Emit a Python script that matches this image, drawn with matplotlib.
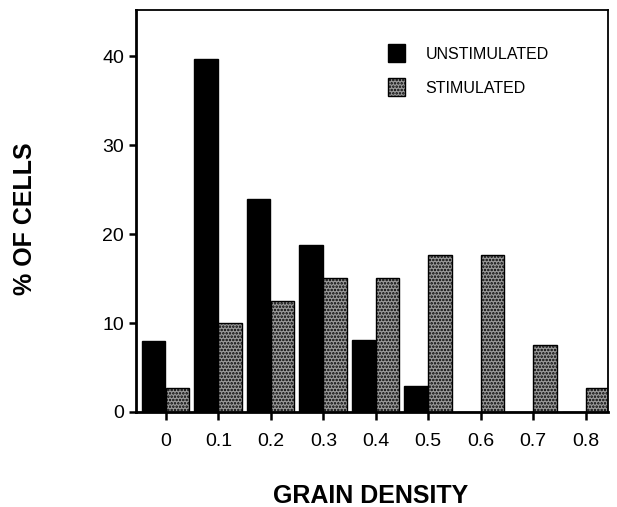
import numpy as np
import matplotlib.pyplot as plt

# Grain density bins and % of cells
density = [0, 0.1, 0.2, 0.3, 0.4, 0.5, 0.6, 0.7, 0.8]
unstimulated = [8.0, 39.7, 23.9, 18.8, 8.1, 2.9, 0, 0, 0]
stimulated = [2.7, 10.0, 12.5, 15.1, 15.1, 17.7, 17.7, 7.5, 2.7]
tick_labels = ['0', '0.1', '0.2', '0.3', '0.4', '0.5', '0.6', '0.7', '0.8']

plt.rcParams['font.family'] = ['Liberation Sans', 'DejaVu Sans']
plt.rcParams['hatch.linewidth'] = 1.2

fig = plt.figure(figsize=(6.17, 5.07), dpi=100)
ax = fig.add_axes([0.2204, 0.1874, 0.765, 0.7929])

x = np.array(density)
w = 0.0445
ax.bar(x - w / 2 - 0.001, unstimulated, width=w, color='black', edgecolor='black',
       label='UNSTIMULATED')
ax.bar(x + w / 2, stimulated, width=w, color='#9a9a9a', edgecolor='black',
       hatch='.....', linewidth=1.0, label='STIMULATED')

ax.set_xlim(-0.057, 0.8425)
ax.set_ylim(0, 45.2)
ax.set_xticks(density)
ax.set_xticklabels(tick_labels)
ax.set_yticks([0, 10, 20, 30, 40])
ax.tick_params(axis='both', labelsize=14, direction='out', length=5, width=1.8)
ax.tick_params(axis='x', pad=9, length=6)

for side in ['left', 'bottom']:
    ax.spines[side].set_linewidth(2)
for side in ['top', 'right']:
    ax.spines[side].set_linewidth(1.3)

ax.legend(loc='upper right', bbox_to_anchor=(0.905, 0.95), frameon=False,
          handlelength=1.05, handleheight=1.35, handletextpad=1.3,
          labelspacing=1.0, prop={'size': 11.5})

fig.text(0.04, 0.568, '% OF CELLS', rotation=90, ha='center', va='center',
         fontsize=18, fontweight='bold')
fig.text(0.60, 0.022, 'GRAIN DENSITY', ha='center', va='center',
         fontsize=18, fontweight='bold')

plt.savefig('out.png', dpi=100)
